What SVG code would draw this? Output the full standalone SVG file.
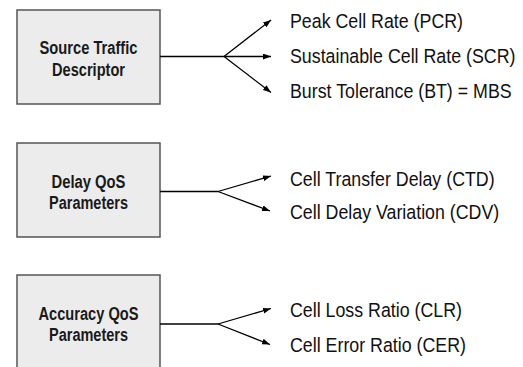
<svg xmlns="http://www.w3.org/2000/svg" width="523" height="367" viewBox="0 0 523 367">
  <defs>
    <marker id="arrow" viewBox="0 0 8 6" refX="8" refY="3" markerWidth="8" markerHeight="6" markerUnits="userSpaceOnUse" orient="auto">
      <path d="M0,0 L8,3 L0,6 Z" fill="#000"/>
    </marker>
    <style>
      .box { fill: #ececec; stroke: #555; stroke-width: 1.5; }
      .btxt { font-family: "Liberation Sans", Arial, sans-serif; font-weight: bold; font-size: 18px; fill: #1a1a1a; text-anchor: middle; }
      .item { font-family: "Liberation Sans", Arial, sans-serif; font-size: 19.5px; fill: #111; }
      .conn { fill: none; stroke: #000; stroke-width: 1.3; }
      .arr { marker-end: url(#arrow); }
    </style>
  </defs>

  <!-- category boxes -->
  <g id="source-traffic">
    <rect class="box" x="17" y="10" width="143" height="94"/>
    <text class="btxt" x="88.5" y="54" textLength="98" lengthAdjust="spacingAndGlyphs">Source Traffic</text>
    <text class="btxt" x="88.5" y="75.5" textLength="73" lengthAdjust="spacingAndGlyphs">Descriptor</text>
  </g>
  <g id="delay-qos">
    <rect class="box" x="17" y="143" width="143" height="94"/>
    <text class="btxt" x="88.5" y="188" textLength="74" lengthAdjust="spacingAndGlyphs">Delay QoS</text>
    <text class="btxt" x="88.5" y="209" textLength="79" lengthAdjust="spacingAndGlyphs">Parameters</text>
  </g>
  <g id="accuracy-qos">
    <rect class="box" x="17" y="275" width="143" height="96"/>
    <text class="btxt" x="88.5" y="320" textLength="100" lengthAdjust="spacingAndGlyphs">Accuracy QoS</text>
    <text class="btxt" x="88.5" y="341" textLength="79" lengthAdjust="spacingAndGlyphs">Parameters</text>
  </g>

  <!-- parameter labels (slightly condensed horizontally) -->
  <g id="source-traffic-params" transform="translate(290,0) scale(0.913,1)">
    <text class="item" x="0" y="28">Peak Cell Rate (PCR)</text>
    <text class="item" x="0" y="63">Sustainable Cell Rate (SCR)</text>
    <text class="item" x="0" y="98">Burst Tolerance (BT) = MBS</text>
  </g>
  <g id="delay-qos-params" transform="translate(290,0) scale(0.913,1)">
    <text class="item" x="0" y="186">Cell Transfer Delay (CTD)</text>
    <text class="item" x="0" y="219">Cell Delay Variation (CDV)</text>
  </g>
  <g id="accuracy-qos-params" transform="translate(290,0) scale(0.913,1)">
    <text class="item" x="0" y="317">Cell Loss Ratio (CLR)</text>
    <text class="item" x="0" y="352">Cell Error Ratio (CER)</text>
  </g>

  <!-- fan-out connectors -->
  <g id="connectors">
    <path class="conn" d="M160,56.5 H224"/>
    <path class="conn arr" d="M224,56.5 L271,20"/>
    <path class="conn arr" d="M224,56.5 H271"/>
    <path class="conn arr" d="M224,56.5 L271,92.5"/>

    <path class="conn" d="M160,191.5 H218"/>
    <path class="conn arr" d="M218,191.5 L271,176"/>
    <path class="conn arr" d="M218,191.5 L270,211"/>

    <path class="conn" d="M160,324 H218"/>
    <path class="conn arr" d="M218,324 L271,308.5"/>
    <path class="conn arr" d="M218,324 L270,344.5"/>
  </g>
</svg>
